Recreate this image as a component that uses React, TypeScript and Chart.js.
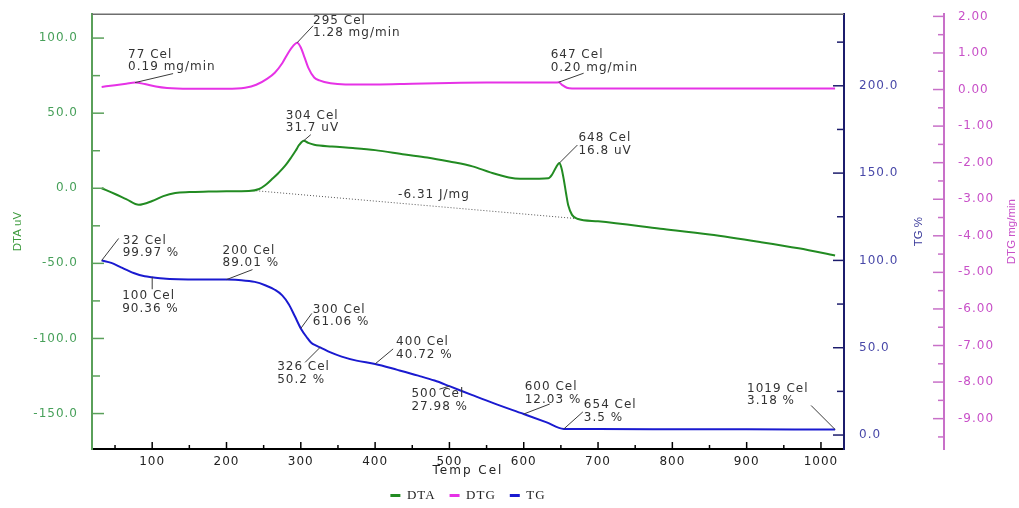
import React, { useEffect, useRef } from "react";
import { Chart, registerables } from "chart.js";

Chart.register(...registerables);

// ---- Temperature axis (Cel) ----
const TEMP_MIN = 19;
const TEMP_MAX = 1031;
const tempTicks = [100, 200, 300, 400, 500, 600, 700, 800, 900, 1000];
const tempMinorTicks = [50, 150, 250, 350, 450, 550, 650, 750, 850, 950];

// ---- DTA (uV), left axis ----
const DTA_MIN = -173.6;
const DTA_MAX = 115.9;
const dtaTicks = [-150, -100, -50, 0, 50, 100];
const dtaMinorTicks = [-125, -75, -25, 25, 75];
const dtaTemps = [32, 50, 65, 82, 100, 115, 131, 150, 176, 200, 230, 244, 252, 261, 270, 279, 287, 293, 298, 304, 310, 318, 342, 370, 400, 440, 470, 500, 531, 555, 580, 595, 620, 633, 638, 643, 648, 651, 654, 657, 660, 665, 672, 700, 784, 850, 918, 970, 1019];
const dtaValues = [0, -3.8, -7.2, -11, -8.5, -5.2, -3.1, -2.5, -2.2, -2.0, -1.8, -0.5, 2.0, 6.0, 10.2, 15, 20.5, 25, 29.0, 31.7, 30.2, 29.0, 27.8, 26.8, 25.4, 22.5, 20.5, 17.8, 14.6, 10.6, 7.2, 6.3, 6.4, 6.6, 9.0, 13.5, 16.8, 13.0, 5.5, -3.5, -11.5, -17.7, -20.3, -22.0, -26.9, -30.8, -35.8, -40.0, -44.7];

// integration baseline under the exothermic region
const baselineTemps = [236, 669];
const baselineValues = [-1.5, -20.1];
const peakAreaLabel = "-6.31 J/mg";
const peakAreaTemp = 400;

// ---- TG (%), first right axis ----
const TG_MIN = -8;
const TG_MAX = 241;
const tgTicks = [0, 50, 100, 150, 200];
const tgMinorTicks = [25, 75, 125, 175, 225];
const tgTemps = [32, 45, 58, 75, 90, 100, 115, 135, 160, 200, 220, 238, 252, 265, 275, 284, 292, 300, 308, 314, 320, 326, 340, 355, 375, 400, 430, 458, 480, 500, 530, 560, 600, 630, 654, 700, 800, 900, 1019];
const tgValues = [99.97, 98.6, 96.0, 92.8, 90.9, 90.36, 89.6, 89.2, 89.1, 89.01, 88.7, 87.7, 85.8, 83.2, 80.0, 74.8, 68.0, 61.06, 56.0, 52.8, 51.3, 50.2, 47.3, 44.9, 42.6, 40.72, 37.3, 34.0, 31.2, 27.98, 23.0, 18.1, 12.03, 7.4, 3.5, 3.45, 3.35, 3.26, 3.18];

// ---- DTG (mg/min), outer right axis ----
const DTG_MIN = -9.83;
const DTG_MAX = 2.06;
const dtgTicks = [-9, -8, -7, -6, -5, -4, -3, -2, -1, 0, 1, 2];
const dtgMinorTicks = [-9.5, -8.5, -7.5, -6.5, -5.5, -4.5, -3.5, -2.5, -1.5, -0.5, 0.5, 1.5];
const dtgTemps = [32, 50, 65, 77, 90, 105, 120, 150, 200, 225, 240, 255, 265, 275, 283, 290, 295, 300, 305, 310, 318, 325, 340, 360, 400, 450, 500, 550, 600, 635, 643, 647, 652, 658, 665, 700, 800, 900, 1019];
const dtgValues = [0.07, 0.12, 0.16, 0.19, 0.15, 0.08, 0.04, 0.02, 0.02, 0.05, 0.13, 0.30, 0.46, 0.72, 1.0, 1.2, 1.28, 1.15, 0.88, 0.6, 0.33, 0.25, 0.17, 0.14, 0.14, 0.16, 0.18, 0.19, 0.19, 0.19, 0.19, 0.20, 0.12, 0.05, 0.03, 0.03, 0.03, 0.03, 0.03];

// ---- colours ----
const C = {
  dta: "#228b22",
  dtaAxis: "#5aa05a",
  dtaText: "#47a05a",
  tg: "#1a1ad0",
  tgAxis: "#1c1c6c",
  tgText: "#4848a8",
  dtg: "#e632e6",
  dtgAxis: "#c870c8",
  dtgText: "#c850c8",
  text: "#333333",
  frame: "#6e6e6e",
};

const series = {
  yDTA: { temps: dtaTemps, values: dtaValues },
  yTG: { temps: tgTemps, values: tgValues },
  yDTG: { temps: dtgTemps, values: dtgValues },
};

// callout text and where it sits relative to the marked point (px)
const callouts = [
  { axis: "yDTG", t: 77, lines: ["77 Cel", "0.19 mg/min"], lead: [38, -9], at: [-7, -28] },
  { axis: "yDTG", t: 295, lines: ["295 Cel", "1.28 mg/min"], lead: [16, -17], at: [16, -22] },
  { axis: "yDTG", t: 647, lines: ["647 Cel", "0.20 mg/min"], lead: [25, -9], at: [-8, -27] },
  { axis: "yDTA", t: 304, lines: ["304 Cel", "31.7 uV"], lead: [7, -6], at: [-18, -25] },
  { axis: "yDTA", t: 648, lines: ["648 Cel", "16.8 uV"], lead: [18, -18], at: [19, -25] },
  { axis: "yTG", t: 32, lines: ["32 Cel", "99.97 %"], lead: [17, -22], at: [21, -20] },
  { axis: "yTG", t: 100, lines: ["100 Cel", "90.36 %"], lead: [0, 12], at: [-30, 19] },
  { axis: "yTG", t: 200, lines: ["200 Cel", "89.01 %"], lead: [26, -10], at: [-4, -29] },
  { axis: "yTG", t: 300, lines: ["300 Cel", "61.06 %"], lead: [11, -15], at: [12, -19] },
  { axis: "yTG", t: 326, lines: ["326 Cel", "50.2 %"], lead: [-15, 15], at: [-43, 20] },
  { axis: "yTG", t: 400, lines: ["400 Cel", "40.72 %"], lead: [18, -15], at: [21, -22] },
  { axis: "yTG", t: 500, lines: ["500 Cel", "27.98 %"], lead: [-10, 3], at: [-38, 8] },
  { axis: "yTG", t: 600, lines: ["600 Cel", "12.03 %"], lead: [26, -10], at: [1, -27] },
  { axis: "yTG", t: 654, lines: ["654 Cel", "3.5 %"], lead: [19, -17], at: [20, -24] },
  { axis: "yTG", t: 1019, lines: ["1019 Cel", "3.18 %"], lead: [-24, -24], at: [-88, -41] },
];

const TICK_FONT = { family: "'DejaVu Sans', sans-serif", size: 12 };

function setSpacing(ctx: any, v: string) {
  try {
    ctx.letterSpacing = v;
  } catch (e) {
    /* older canvas */
  }
}

function points(temps: number[], values: number[]) {
  return temps.map((t, i) => ({ x: t, y: values[i] }));
}

function valueAt(axis: string, t: number) {
  const s = (series as any)[axis];
  const i = s.temps.indexOf(t);
  return s.values[i];
}

const axisMarks = [
  { id: "x", major: tempTicks, minor: tempMinorTicks, majorLen: 7, minorLen: 4, color: "#000" },
  { id: "yDTA", major: dtaTicks, minor: dtaMinorTicks, majorLen: 12, minorLen: 8, color: C.dtaAxis },
  { id: "yTG", major: tgTicks, minor: tgMinorTicks, majorLen: 11, minorLen: 7, color: C.tgAxis },
  { id: "yDTG", major: dtgTicks, minor: dtgMinorTicks, majorLen: 11, minorLen: 6, color: C.dtgAxis },
];

const thermoDecor = {
  id: "thermoDecor",
  beforeUpdate(chart: any) {
    setSpacing(chart.ctx, "1px");
  },
  beforeLayout(chart: any) {
    setSpacing(chart.ctx, "1px");
  },
  beforeDraw(chart: any) {
    setSpacing(chart.ctx, "1px");
  },
  afterDraw(chart: any) {
    const { ctx, chartArea, scales } = chart;
    ctx.save();

    // top edge of the plot frame
    ctx.strokeStyle = C.frame;
    ctx.lineWidth = 1.5;
    ctx.beginPath();
    ctx.moveTo(chartArea.left, chartArea.top);
    ctx.lineTo(chartArea.right, chartArea.top);
    ctx.stroke();

    // tick marks, drawn inward from each axis line
    for (const spec of axisMarks) {
      const sc = scales[spec.id];
      ctx.strokeStyle = spec.color;
      ctx.lineWidth = 1.5;
      const draw = (vals: number[], len: number) => {
        for (const v of vals) {
          const p = sc.getPixelForValue(v);
          ctx.beginPath();
          if (spec.id === "x") {
            ctx.moveTo(p, sc.top);
            ctx.lineTo(p, sc.top - len);
          } else if (sc.position === "left") {
            ctx.moveTo(sc.right, p);
            ctx.lineTo(sc.right + len, p);
          } else {
            ctx.moveTo(sc.left, p);
            ctx.lineTo(sc.left - len, p);
          }
          ctx.stroke();
        }
      };
      draw(spec.major, spec.majorLen);
      draw(spec.minor, spec.minorLen);
    }

    // callouts
    const xs = scales.x;
    ctx.font = "12px 'DejaVu Sans', sans-serif";
    setSpacing(ctx, "1px");
    ctx.textAlign = "left";
    ctx.textBaseline = "middle";
    for (const c of callouts) {
      const v = valueAt(c.axis, c.t);
      const px = xs.getPixelForValue(c.t);
      const py = scales[c.axis].getPixelForValue(v);
      ctx.strokeStyle = "#3a3a3a";
      ctx.lineWidth = 1;
      ctx.beginPath();
      ctx.moveTo(px, py);
      ctx.lineTo(px + c.lead[0], py + c.lead[1]);
      ctx.stroke();
      ctx.fillStyle = C.text;
      c.lines.forEach((line, i) => {
        ctx.fillText(line, px + c.at[0], py + c.at[1] + i * 12.5);
      });
    }

    // peak area label on the baseline
    const f = (peakAreaTemp - baselineTemps[0]) / (baselineTemps[1] - baselineTemps[0]);
    const bv = baselineValues[0] + f * (baselineValues[1] - baselineValues[0]);
    ctx.fillStyle = C.text;
    ctx.fillText(peakAreaLabel, xs.getPixelForValue(peakAreaTemp) + 23, scales.yDTA.getPixelForValue(bv) - 6);

    // axis titles
    const midY = (chartArea.top + chartArea.bottom) / 2;
    ctx.font = "11.5px 'Liberation Sans', Arial, sans-serif";
    setSpacing(ctx, "0px");
    ctx.textAlign = "center";
    const vTitle = (text: string, x: number, color: string) => {
      ctx.save();
      ctx.translate(x, midY);
      ctx.rotate(-Math.PI / 2);
      ctx.fillStyle = color;
      ctx.fillText(text, 0, 0);
      ctx.restore();
    };
    vTitle("DTA uV", scales.yDTA.left + 18, "#3c9a3c");
    vTitle("TG %", scales.yTG.left + 75, "#3a3a9a");
    vTitle("DTG mg/min", scales.yDTG.left + 68, C.dtgText);

    ctx.font = "12px 'DejaVu Sans', sans-serif";
    setSpacing(ctx, "2px");
    ctx.fillStyle = "#222";
    ctx.fillText("Temp Cel", (chartArea.left + chartArea.right) / 2, xs.top + 22);

    ctx.restore();
    setSpacing(ctx, "1px");
  },
};

export default function App() {
  const canvasRef = useRef<HTMLCanvasElement | null>(null);

  useEffect(() => {
    const canvas = canvasRef.current;
    if (!canvas) return;

    const line = (label: string, data: any[], color: string, axis: string) => ({
      label,
      data,
      yAxisID: axis,
      borderColor: color,
      backgroundColor: color,
      borderWidth: 2,
      pointRadius: 0,
      cubicInterpolationMode: "monotone" as const,
      fill: false,
    });

    const chart = new Chart(canvas, {
      type: "line",
      data: {
        datasets: [
          line("DTA", points(dtaTemps, dtaValues), C.dta, "yDTA"),
          line("DTG", points(dtgTemps, dtgValues), C.dtg, "yDTG"),
          line("TG", points(tgTemps, tgValues), C.tg, "yTG"),
          {
            label: "baseline",
            data: points(baselineTemps, baselineValues),
            yAxisID: "yDTA",
            borderColor: "#555",
            backgroundColor: "#555",
            borderWidth: 1,
            borderDash: [1, 2],
            pointRadius: 0,
            fill: false,
          },
        ],
      },
      options: {
        animation: false,
        responsive: true,
        maintainAspectRatio: false,
        events: [],
        layout: { padding: { top: 11, left: 0, right: 0, bottom: 0 } },
        scales: {
          x: {
            type: "linear",
            position: "bottom",
            min: TEMP_MIN,
            max: TEMP_MAX,
            afterBuildTicks: (s: any) => {
              s.ticks = tempTicks.map((v) => ({ value: v }));
            },
            ticks: {
              color: "#222",
              font: TICK_FONT,
              padding: -2,
              autoSkip: false,
              maxRotation: 0,
              callback: (v: any) => String(v),
            },
            grid: { display: false },
            border: { display: true, color: "#000", width: 2 },
            afterFit: (s: any) => {
              s.height = 26;
            },
          },
          yDTA: {
            type: "linear",
            position: "left",
            min: DTA_MIN,
            max: DTA_MAX,
            afterBuildTicks: (s: any) => {
              s.ticks = dtaTicks.map((v) => ({ value: v }));
            },
            ticks: {
              color: C.dtaText,
              font: TICK_FONT,
              padding: 6,
              autoSkip: false,
              callback: (v: any) => Number(v).toFixed(1),
            },
            grid: { display: false },
            border: { display: true, color: C.dtaAxis, width: 2 },
            afterFit: (s: any) => {
              s.width = 92;
            },
          },
          yTG: {
            type: "linear",
            position: "right",
            min: TG_MIN,
            max: TG_MAX,
            afterBuildTicks: (s: any) => {
              s.ticks = tgTicks.map((v) => ({ value: v }));
            },
            ticks: {
              color: C.tgText,
              font: TICK_FONT,
              padding: 7,
              autoSkip: false,
              callback: (v: any) => Number(v).toFixed(1),
            },
            grid: { display: false },
            border: { display: true, color: C.tgAxis, width: 2 },
            afterFit: (s: any) => {
              s.width = 100;
            },
          },
          yDTG: {
            type: "linear",
            position: "right",
            min: DTG_MIN,
            max: DTG_MAX,
            afterBuildTicks: (s: any) => {
              s.ticks = dtgTicks.map((v) => ({ value: v }));
            },
            ticks: {
              color: C.dtgText,
              font: TICK_FONT,
              padding: 6,
              autoSkip: false,
              callback: (v: any) => Number(v).toFixed(2),
            },
            grid: { display: false },
            border: { display: true, color: C.dtgAxis, width: 2 },
            afterFit: (s: any) => {
              s.width = 75;
            },
          },
        },
        plugins: {
          tooltip: { enabled: false },
          legend: {
            display: true,
            position: "bottom",
            fullSize: false,
            labels: {
              boxWidth: 10,
              boxHeight: 3,
              padding: 14,
              color: "#222",
              font: { family: "'Liberation Serif', 'Times New Roman', serif", size: 13 },
              generateLabels: (ch: any) =>
                (Chart.defaults.plugins.legend.labels as any)
                  .generateLabels(ch)
                  .filter((it: any) => it.text !== "baseline")
                  .map((it: any) => ({ ...it, lineWidth: 0 })),
            },
          },
        },
      },
      plugins: [thermoDecor],
    } as any);

    return () => chart.destroy();
  }, []);

  return (
    <div
      style={{
        position: "fixed",
        left: 0,
        top: 0,
        width: 1019,
        height: 512,
        background: "#ffffff",
      }}
    >
      <canvas ref={canvasRef} />
    </div>
  );
}
